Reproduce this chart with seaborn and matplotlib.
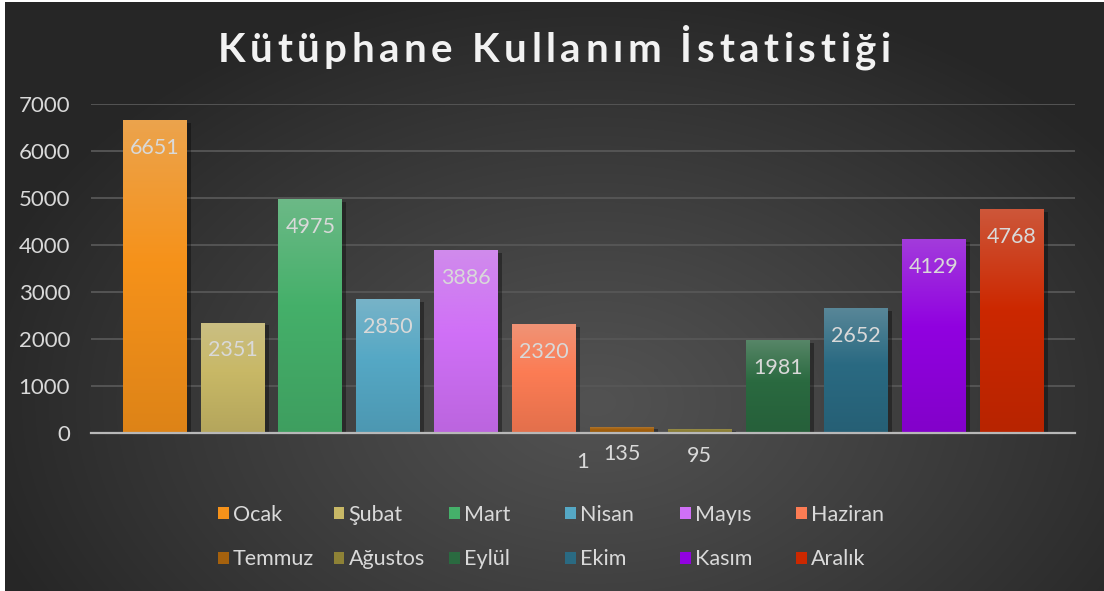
import numpy as np
import pandas as pd
import matplotlib
matplotlib.use("Agg")
import matplotlib.pyplot as plt
import matplotlib.patheffects as pe
from matplotlib.patches import Patch
from matplotlib.colors import to_rgb
import seaborn as sns

# ---- data ----
months = ["Ocak", "Şubat", "Mart", "Nisan", "Mayıs", "Haziran",
          "Temmuz", "Ağustos", "Eylül", "Ekim", "Kasım", "Aralık"]
values = [6651, 2351, 4975, 2850, 3886, 2320, 135, 95, 1981, 2652, 4129, 4768]
category = ["1"] * len(months)
colors = ["#f6921a", "#c8b866", "#45b06a", "#55a8c5", "#d070f7", "#fc7c54",
          "#a5610d", "#8e8236", "#2a6a40", "#2a6a82", "#9102e0", "#cc2800"]
yticks = [0, 1000, 2000, 3000, 4000, 5000, 6000, 7000]
title = "Kütüphane Kullanım İstatistiği"

df = pd.DataFrame({"cat": category, "month": months, "value": values})

sns.set_theme(style="white")
plt.rcParams["font.family"] = ["Lato", "DejaVu Sans"]
TXT = "#d9d9d9"

W, H = 1104, 591
fig = plt.figure(figsize=(W / 100, H / 100), dpi=100, facecolor="white")

# background radial gradient
bg = fig.add_axes([5 / W, 0, 1 - 5 / W, 1 - 2 / H])
bg.set_axis_off()
yy, xx = np.mgrid[0:589, 0:1099]
r = np.sqrt(((xx - 590) / 640.0) ** 2 + ((yy - 400) / 430.0) ** 2)
r = np.clip(r, 0, 1) ** 1.1
c_in = np.array(to_rgb("#525252"))
c_out = np.array(to_rgb("#262626"))
img = c_in[None, None, :] * (1 - r[..., None]) + c_out[None, None, :] * r[..., None]
bg.imshow(img, aspect="auto", extent=[0, 1, 0, 1], origin="upper")
bg.set_xlim(0, 1); bg.set_ylim(0, 1)

# main axes
L, R, Y0, Y7 = 91, 1075, 433, 104
ax = fig.add_axes([L / W, (H - Y0) / H, (R - L) / W, (Y0 - Y7) / H])
ax.set_facecolor("none")

sns.barplot(data=df, x="cat", y="value", hue="month", hue_order=months,
            palette=colors, width=0.95, gap=0.18, legend=False, ax=ax,
            saturation=1, err_kws={"linewidth": 0})

ax.set_ylim(0, 7000)
ax.set_xlim(-0.5, 0.5)
ax.set_yticks(yticks)
ax.yaxis.grid(True, color="#575757", linewidth=1.3)
ax.set_axisbelow(True)
for s in ["top", "right", "left"]:
    ax.spines[s].set_visible(False)
ax.spines["bottom"].set_color("#b8b8b8")
ax.spines["bottom"].set_linewidth(1.6)
ax.spines["bottom"].set_zorder(5)
ax.tick_params(axis="y", length=0, pad=15, labelsize=16, labelcolor=TXT)
ax.tick_params(axis="x", length=0, pad=14, labelsize=16, labelcolor=TXT)
ax.set_xlabel(""); ax.set_ylabel("")

grey = np.array(to_rgb("#d0d0d0"))
bars = [p for p in ax.patches]
for p, col, v in zip(bars, colors, values):
    base = np.array(to_rgb(col))
    top = base * 0.72 + grey * 0.28
    bot = base * 0.9
    n = 200
    t = np.linspace(0, 1, n)
    grad = np.empty((n, 1, 4))
    for i, ti in enumerate(t):
        if ti < 0.45:
            c = top + (base - top) * (ti / 0.45)
        else:
            c = base + (bot - base) * ((ti - 0.45) / 0.55)
        grad[i, 0, :3] = c
        grad[i, 0, 3] = 1
    x0 = p.get_x(); w = p.get_width(); h = p.get_height()
    p.set_path_effects([pe.SimplePatchShadow(offset=(3, -2), shadow_rgbFace="black", alpha=0.35), pe.Normal()])
    p.set_edgecolor("none")
    im = ax.imshow(grad, extent=[x0, x0 + w, 0, h], aspect="auto", origin="upper",
                   zorder=p.get_zorder() + 0.1, interpolation="bilinear")
    im.set_clip_path(p)
    ax.annotate(f"{v}", (x0 + w / 2, h), xytext=(0, -20), textcoords="offset points",
                ha="center", va="center", fontsize=15.5, color=TXT, zorder=10)

ax.set_ylim(0, 7000)
ax.set_xlim(-0.5, 0.5)

# title with letter spacing
renderer = fig.canvas.get_renderer()
tkw = dict(fontsize=29, fontweight="bold", color="#f2f2f2", va="baseline", ha="left")
def text_w(s):
    t = fig.text(0, 0, s + "I", **tkw)
    w1 = t.get_window_extent(renderer).width
    t.remove()
    t = fig.text(0, 0, "I", **tkw)
    w2 = t.get_window_extent(renderer).width
    t.remove()
    return w1 - w2
spacing = 4.6
total = text_w(title) + spacing * (len(title) - 1)
x_start = 554 - total / 2
baseline = H - 62
for i, ch in enumerate(title):
    if ch == " ":
        continue
    xi = x_start + text_w(title[:i]) + spacing * i
    fig.text(xi / W, baseline / H, ch, **tkw)

# legend: 6 columns x 2 rows
for i in range(6):
    idx = [i, i + 6]
    handles = [Patch(facecolor=colors[k], edgecolor="none") for k in idx]
    labels = [months[k] for k in idx]
    fig.legend(handles, labels, loc="center left",
               bbox_to_anchor=((218 + 115.6 * i) / W, 1 - 537 / H),
               frameon=False, fontsize=15.5, labelcolor=TXT,
               handlelength=0.5, handleheight=0.5, handletextpad=0.2,
               borderpad=0, borderaxespad=0, labelspacing=1.15)

fig.savefig("out.png", dpi=100, facecolor="white")
